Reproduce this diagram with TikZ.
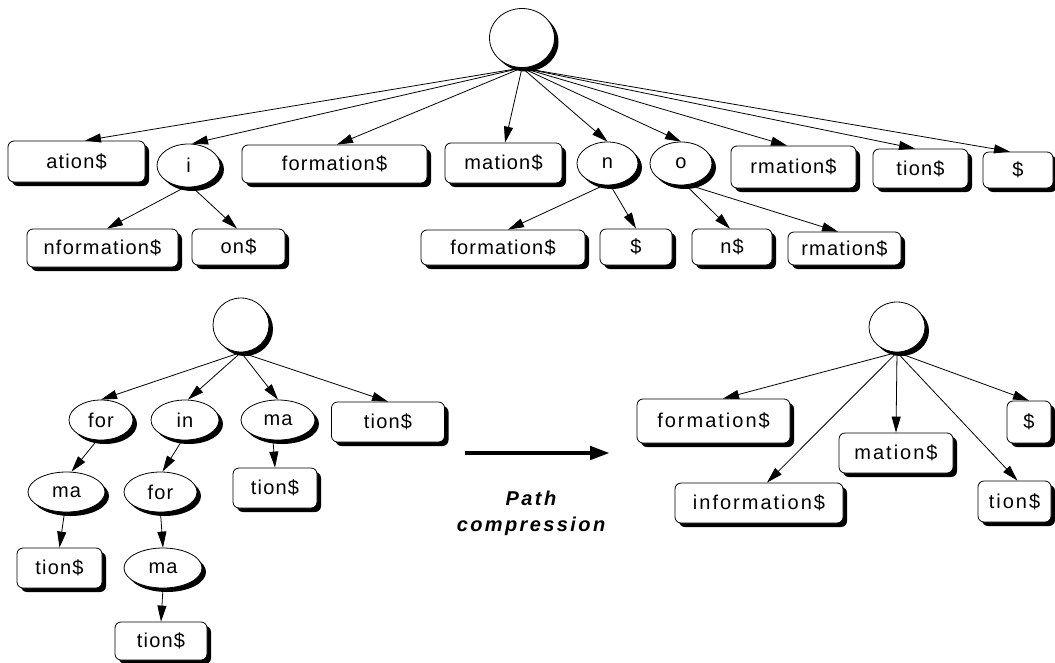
\documentclass[tikz,border=0pt]{standalone}
\usepackage{fontspec}
\setmainfont{Liberation Sans}
\newfontfamily\nodefont{Liberation Sans}[LetterSpace=6]
\newfontfamily\widefont{Liberation Sans}[LetterSpace=10]
\newfontfamily\notefont{Liberation Sans}[LetterSpace=12]
\usetikzlibrary{shapes.geometric,shadows,arrows.meta}

\tikzset{
  sh/.style={drop shadow={shadow xshift=4pt,shadow yshift=-4pt,fill=black,opacity=1}},
  leaf/.style n args={2}{draw=black, fill=white, line width=0.8pt, rounded corners=6pt,
    minimum width=#1pt, minimum height=#2pt, inner sep=0pt, sh,
    font=\nodefont\fontsize{20}{24}\selectfont},
  inner/.style n args={2}{draw=black, fill=white, line width=0.8pt, ellipse,
    minimum width=#1pt, minimum height=#2pt, inner sep=0pt, sh,
    font=\nodefont\fontsize{20}{24}\selectfont},
  wide/.style={font=\widefont\fontsize{20}{24}\selectfont},
  link/.style={draw, line width=0.8pt, -{Triangle[length=16pt,width=9pt]}},
  bigarrow/.style={draw, line width=4.5pt, -{Triangle[length=20pt,width=13pt]}},
}

\begin{document}
\begin{tikzpicture}[x=1pt,y=-1pt]
\useasboundingbox (0,0) rectangle (1055,662);

% ---------- suffix trie of "information$" (upper part) ----------
\node[inner={65}{59}] (root) at (522,38) {};

\node[leaf={137}{41}]  (ation)  at (76.5,161.5) {ation\$};
\node[inner={63}{43}]  (i)      at (188.5,165.5) {i};
\node[leaf={185}{38}]  (form1)  at (334.5,164) {formation\$};
\node[leaf={117}{40}]  (mat1)   at (503.5,163) {mation\$};
\node[inner={61}{43}]  (n)      at (607.5,163.5) {n};
\node[inner={62}{43}]  (o)      at (681,163.5) {o};
\node[leaf={125}{42}]  (rmat1)  at (793.5,167) {rmation\$};
\node[leaf={95}{39}]   (tion1)  at (920.5,168.5) {tion\$};
\node[leaf={70}{36}]   (dol1)   at (1018,170) {\$};

\node[leaf={151}{38}]  (nform)  at (102.5,248) {nformation\$};
\node[leaf={93}{36}]   (on)     at (238.5,247) {on\$};
\node[leaf={164}{35}]  (form2)  at (503,247.5) {formation\$};
\node[leaf={72}{36}]   (dol2)   at (636,247) {\$};
\node[leaf={80}{36}]   (ndol)   at (732,247) {n\$};
\node[leaf={113}{33}]  (rmat2)  at (844.5,248.5) {rmation\$};

\draw[link] (root.south) -- ([xshift=8.5pt]ation.north);
\draw[link] (root.south) -- ([xshift=3.5pt]i.north);
\draw[link] (root.south) -- ([xshift=2.5pt]form1.north);
\draw[link] (root.south) -- ([xshift=1.5pt]mat1.north);
\draw[link] (root.south) -- (n.north);
\draw[link] (root.south) -- (o.north);
\draw[link] (root.south) -- ([xshift=-6.5pt]rmat1.north);
\draw[link] (root.south) -- ([xshift=-5.5pt]tion1.north);
\draw[link] (root.south) -- ([xshift=-8pt]dol1.north);

\draw[link] ([xshift=-4pt]i.south) -- ([xshift=4.5pt]nform.north);
\draw[link] ([xshift=4pt]i.south)  -- ([xshift=-1.5pt]on.north);
\draw[link] ([xshift=-4pt]n.south) -- ([xshift=5pt]form2.north);
\draw[link] ([xshift=3pt]n.south)  -- (dol2.north);
\draw[link] ([xshift=5pt]o.south)  -- ([xshift=-2pt]ndol.north);
\draw[link] ([xshift=9pt]o.south)  -- ([xshift=-6.5pt]rmat2.north);

% ---------- trie before compression (lower left) ----------
\node[inner={56}{54}] (broot) at (241,325) {};

\node[inner={64}{40}] (bfor)   at (101,420) {for};
\node[inner={68}{40}] (bin)    at (185,420) {in};
\node[inner={74}{40}] (bma)    at (278,420) {ma};
\node[leaf={113}{40}] (btion)  at (388,422) {tion\$};

\node[inner={77}{40}] (bma2)   at (66.5,492) {ma};
\node[inner={73}{40}] (bfor2)  at (160.5,492) {for};
\node[leaf={84}{40}]  (btion2) at (275,488) {tion\$};

\node[leaf={85}{40}]  (btion3) at (59.5,568) {tion\$};
\node[inner={78}{40}] (bma3)   at (163,568) {ma};

\node[leaf={92}{38}]  (btion4) at (161,641) {tion\$};

\draw[link] (broot.south) -- (bfor.north);
\draw[link] (broot.south) -- ([xshift=3pt]bin.north);
\draw[link] (broot.south) -- (bma.north);
\draw[link] (broot.south) -- (btion.north);
\draw[link] ([xshift=-4pt]bfor.south) -- ([xshift=5pt]bma2.north);
\draw[link] ([xshift=-3pt]bin.south)  -- ([xshift=2pt]bfor2.north);
\draw[link] ([xshift=-5pt]bma.south)  -- (btion2.north);
\draw[link] ([xshift=-2pt]bma2.south) -- (btion3.north);
\draw[link] (bfor2.south) -- (bma3.north);
\draw[link] (bma3.south)  -- (btion4.north);

% ---------- compression arrow ----------
\coordinate (pcA) at (465,453);
\coordinate (pcB) at (610,453);
\draw[bigarrow] (pcA) -- (pcB);
\node[font=\notefont\bfseries\itshape\fontsize{20}{26}\selectfont, align=center]
  (pclabel) at (531,513) {Path\\compression};

% ---------- compressed trie (lower right) ----------
\node[inner={56}{50}] (rroot) at (897,327) {};

\node[leaf={153}{44}, wide] (rform) at (713.5,421) {formation\$};
\node[leaf={168}{40}, wide] (rinf)  at (759,503) {information\$};
\node[leaf={114}{40}, wide] (rmat)  at (896,453) {mation\$};
\node[leaf={44}{42}, wide]  (rdol)  at (1029,422) {\$};
\node[leaf={73}{41}, wide]  (rtion) at (1014.5,501.5) {tion\$};

\draw[link] (rroot.south) -- ([xshift=9.5pt]rform.north);
\draw[link] (rroot.south) -- ([xshift=8pt]rinf.north);
\draw[link] (rroot.south) -- (rmat.north);
\draw[link] (rroot.south) -- (rdol.north);
\draw[link] (rroot.south) -- ([xshift=3pt]rtion.north);
\end{tikzpicture}
\end{document}
